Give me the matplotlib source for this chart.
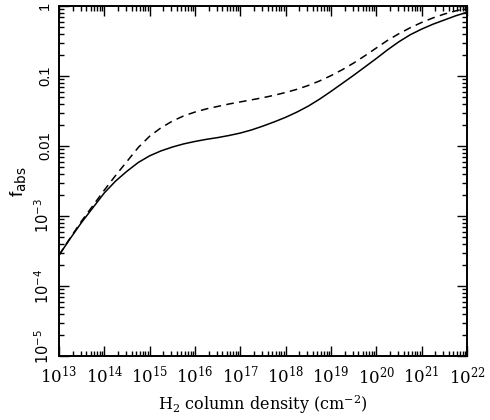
import numpy as np
import matplotlib
matplotlib.use('Agg')
import matplotlib.pyplot as plt
from matplotlib.ticker import FixedLocator, FixedFormatter, LogLocator, NullFormatter
from matplotlib.transforms import ScaledTranslation

plt.rcParams['mathtext.fontset'] = 'dejavuserif'

# log10 of H2 column density (cm^-2)
log_n = [13.0, 13.25, 13.5, 13.75, 14.0, 14.25, 14.5, 14.75, 15.0, 15.25,
         15.5, 15.75, 16.0, 16.25, 16.5, 16.75, 17.0, 17.25, 17.5, 17.75,
         18.0, 18.25, 18.5, 18.75, 19.0, 19.25, 19.5, 19.75, 20.0, 20.25,
         20.5, 20.75, 21.0, 21.25, 21.5, 21.75, 22.0]
# log10 of f_abs, solid and dashed curves
log_f_solid = [-3.56, -3.32, -3.09, -2.88, -2.67, -2.50, -2.36, -2.235, -2.14, -2.07,
               -2.015, -1.97, -1.935, -1.905, -1.88, -1.85, -1.815, -1.77, -1.715, -1.655,
               -1.59, -1.515, -1.43, -1.33, -1.22, -1.105, -0.99, -0.87, -0.75, -0.625,
               -0.51, -0.41, -0.33, -0.26, -0.20, -0.14, -0.09]
log_f_dashed = [-3.56, -3.31, -3.07, -2.85, -2.63, -2.42, -2.22, -2.02, -1.86, -1.74,
                -1.645, -1.57, -1.515, -1.47, -1.435, -1.40, -1.37, -1.34, -1.31, -1.275,
                -1.235, -1.19, -1.135, -1.07, -0.995, -0.91, -0.815, -0.71, -0.60, -0.49,
                -0.395, -0.31, -0.235, -0.17, -0.115, -0.07, -0.03]

x_ticks = [1e13, 1e14, 1e15, 1e16, 1e17, 1e18, 1e19, 1e20, 1e21, 1e22]
x_labels = [r'$10^{%d}$' % e for e in range(13, 23)]
y_ticks = [1e-5, 1e-4, 1e-3, 1e-2, 1e-1, 1]
y_labels = [r'$\mathsf{10^{-5}}$', r'$\mathsf{10^{-4}}$', r'$\mathsf{10^{-3}}$', '0.01', '0.1', '1']

n = 10.0 ** np.array(log_n)
fig = plt.figure(figsize=(4.9, 4.2), dpi=100)
ax = fig.add_axes([0.1204, 0.1524, 0.8326, 0.8333])

ax.plot(n, 10.0 ** np.array(log_f_solid), 'k-', lw=1.1)
ax.plot(n, 10.0 ** np.array(log_f_dashed), 'k--', lw=1.1, dashes=(5, 3.5))

ax.set_xscale('log')
ax.set_yscale('log')
ax.set_xlim(1e13, 1e22)
ax.set_ylim(1e-5, 1)

ax.xaxis.set_major_locator(FixedLocator(x_ticks))
ax.xaxis.set_major_formatter(FixedFormatter(x_labels))
ax.yaxis.set_major_locator(FixedLocator(y_ticks))
ax.yaxis.set_major_formatter(FixedFormatter(y_labels))
ax.xaxis.set_minor_locator(LogLocator(base=10, subs=np.arange(2, 10), numticks=30))
ax.yaxis.set_minor_locator(LogLocator(base=10, subs=np.arange(2, 10), numticks=30))
ax.xaxis.set_minor_formatter(NullFormatter())
ax.yaxis.set_minor_formatter(NullFormatter())

ax.tick_params(which='both', direction='in', top=True, right=True, width=1.0)
ax.tick_params(which='major', length=7)
ax.tick_params(which='minor', length=3.5)
ax.tick_params(axis='x', labelsize=12, pad=7)
ax.tick_params(axis='y', labelsize=10.5, pad=5)
for lab in ax.get_yticklabels():
    lab.set_rotation(90)
    lab.set_va('center')
    lab.set_family('Liberation Sans')
for sp in ax.spines.values():
    sp.set_linewidth(1.4)

# nudge the lowest y label up so it clears the first x label
first = ax.yaxis.get_major_ticks()[0].label1
first.set_transform(first.get_transform() + ScaledTranslation(0, 7 / 72, fig.dpi_scale_trans))

ax.set_xlabel(r'H$_2$ column density (cm$^{-2}$)', family='DejaVu Serif', fontsize=11.5, labelpad=4)
ax.set_ylabel(r'f$_{\mathsf{abs}}$', family='Liberation Sans', fontsize=14, labelpad=4)

fig.savefig('out.png', dpi=100)
